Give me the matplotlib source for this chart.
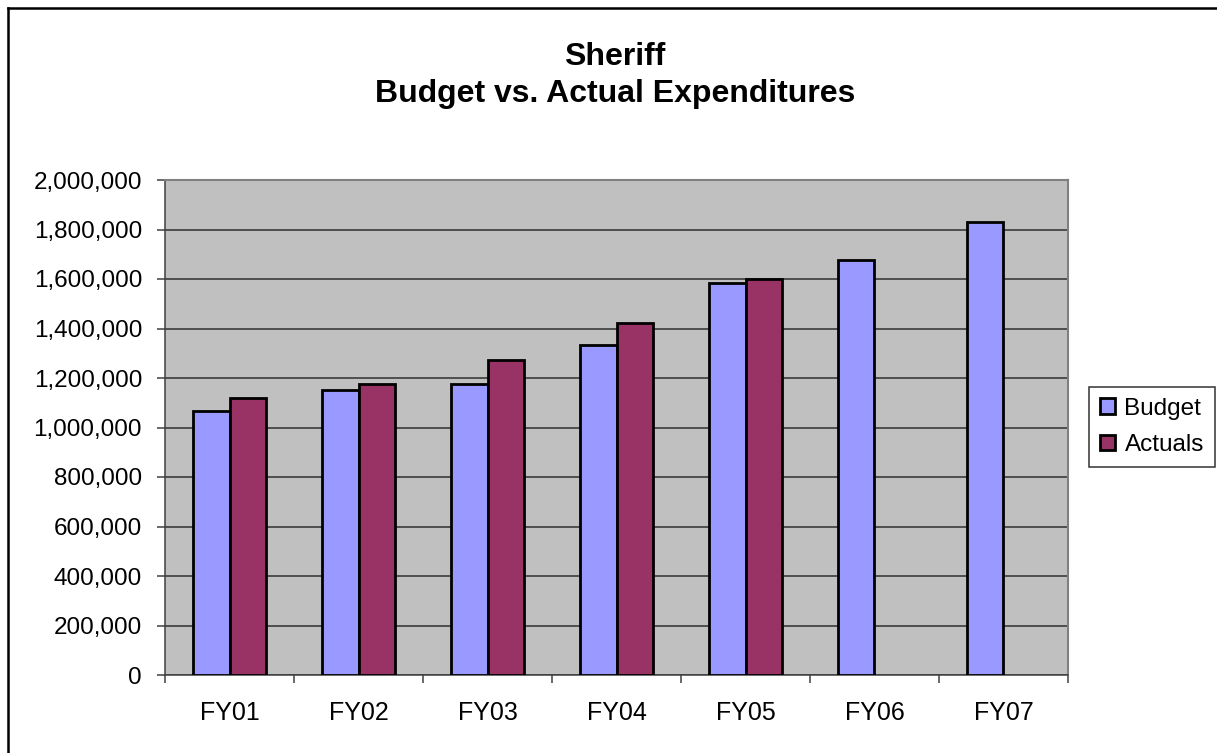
import matplotlib.pyplot as plt
from matplotlib.lines import Line2D
from matplotlib.ticker import FuncFormatter, MultipleLocator
import numpy as np

plt.rcParams['font.family'] = ['Liberation Sans', 'DejaVu Sans']

# Sheriff budget vs. actual spending by fiscal year
years = ["FY01", "FY02", "FY03", "FY04", "FY05", "FY06", "FY07"]
budget = [1065000, 1150000, 1175000, 1335000, 1582000, 1678000, 1830000]
actuals = [1119000, 1175000, 1273000, 1422000, 1599000, None, None]

W, H = 1217, 753
fig = plt.figure(figsize=(W / 100, H / 100), dpi=100)
ax = fig.add_axes([165 / W, 1 - 675 / H, (1068 - 165) / W, (675 - 180) / H])
ax.set_facecolor("#C0C0C0")

x = np.arange(len(years))
w = 1 / 3.5
ax.bar(x - w / 2, budget, w, color="#9999FF", edgecolor="black", linewidth=2,
       label="Budget", zorder=3)
act_x = [i for i, v in enumerate(actuals) if v is not None]
act_v = [v for v in actuals if v is not None]
ax.bar(np.array(act_x) + w / 2, act_v, w, color="#993366", edgecolor="black",
       linewidth=2, label="Actuals", zorder=3)

ax.set_xlim(-0.5, len(years) - 0.5)
ax.set_ylim(0, 2000000)
ax.yaxis.set_major_locator(MultipleLocator(200000))
ax.yaxis.set_major_formatter(FuncFormatter(lambda v, p: f"{int(v):,}"))
ax.grid(axis="y", color="#303030", linewidth=1.1, zorder=1)

# category ticks sit between groups, labels in the middle
ax.set_xticks(np.arange(len(years) + 1) - 0.5)
ax.set_xticklabels([])
ax.set_xticks(x, minor=True)
ax.set_xticklabels(years, minor=True)
ax.tick_params(axis="x", which="minor", length=0, pad=19, labelsize=18)
ax.tick_params(axis="x", which="major", length=5.5, direction="out", width=1.1,
               color="#404040")
ax.tick_params(axis="y", length=5.5, direction="out", width=1.1, color="#404040",
               labelsize=17.5, pad=11)

for side in ["top", "right"]:
    ax.spines[side].set_color("#808080")
    ax.spines[side].set_linewidth(1.5)
for side in ["left", "bottom"]:
    ax.spines[side].set_color("#404040")
    ax.spines[side].set_linewidth(1.1)

fig.text(615 / W, 1 - 65 / H, "Sheriff", ha="center", va="baseline",
         fontsize=23, fontweight="bold")
fig.text(615 / W, 1 - 102 / H, "Budget vs. Actual Expenditures", ha="center",
         va="baseline", fontsize=23, fontweight="bold")

leg = fig.legend(loc="center", bbox_to_anchor=(1152 / W, 1 - 427 / H),
                 fontsize=17.5, frameon=True, fancybox=False, handlelength=0.6,
                 handleheight=0.6, handletextpad=0.4, borderpad=0.45,
                 labelspacing=0.6, borderaxespad=0)
leg.get_frame().set_edgecolor("black")
leg.get_frame().set_linewidth(1.1)

# chart border (left and top edges show)
fig.add_artist(Line2D([8 / W, 8 / W], [0, 1 - 8 / H], color="black",
                      linewidth=1.8, transform=fig.transFigure))
fig.add_artist(Line2D([8 / W, 1], [1 - 8 / H, 1 - 8 / H], color="black",
                      linewidth=1.8, transform=fig.transFigure))

fig.savefig("out.png", dpi=100)
